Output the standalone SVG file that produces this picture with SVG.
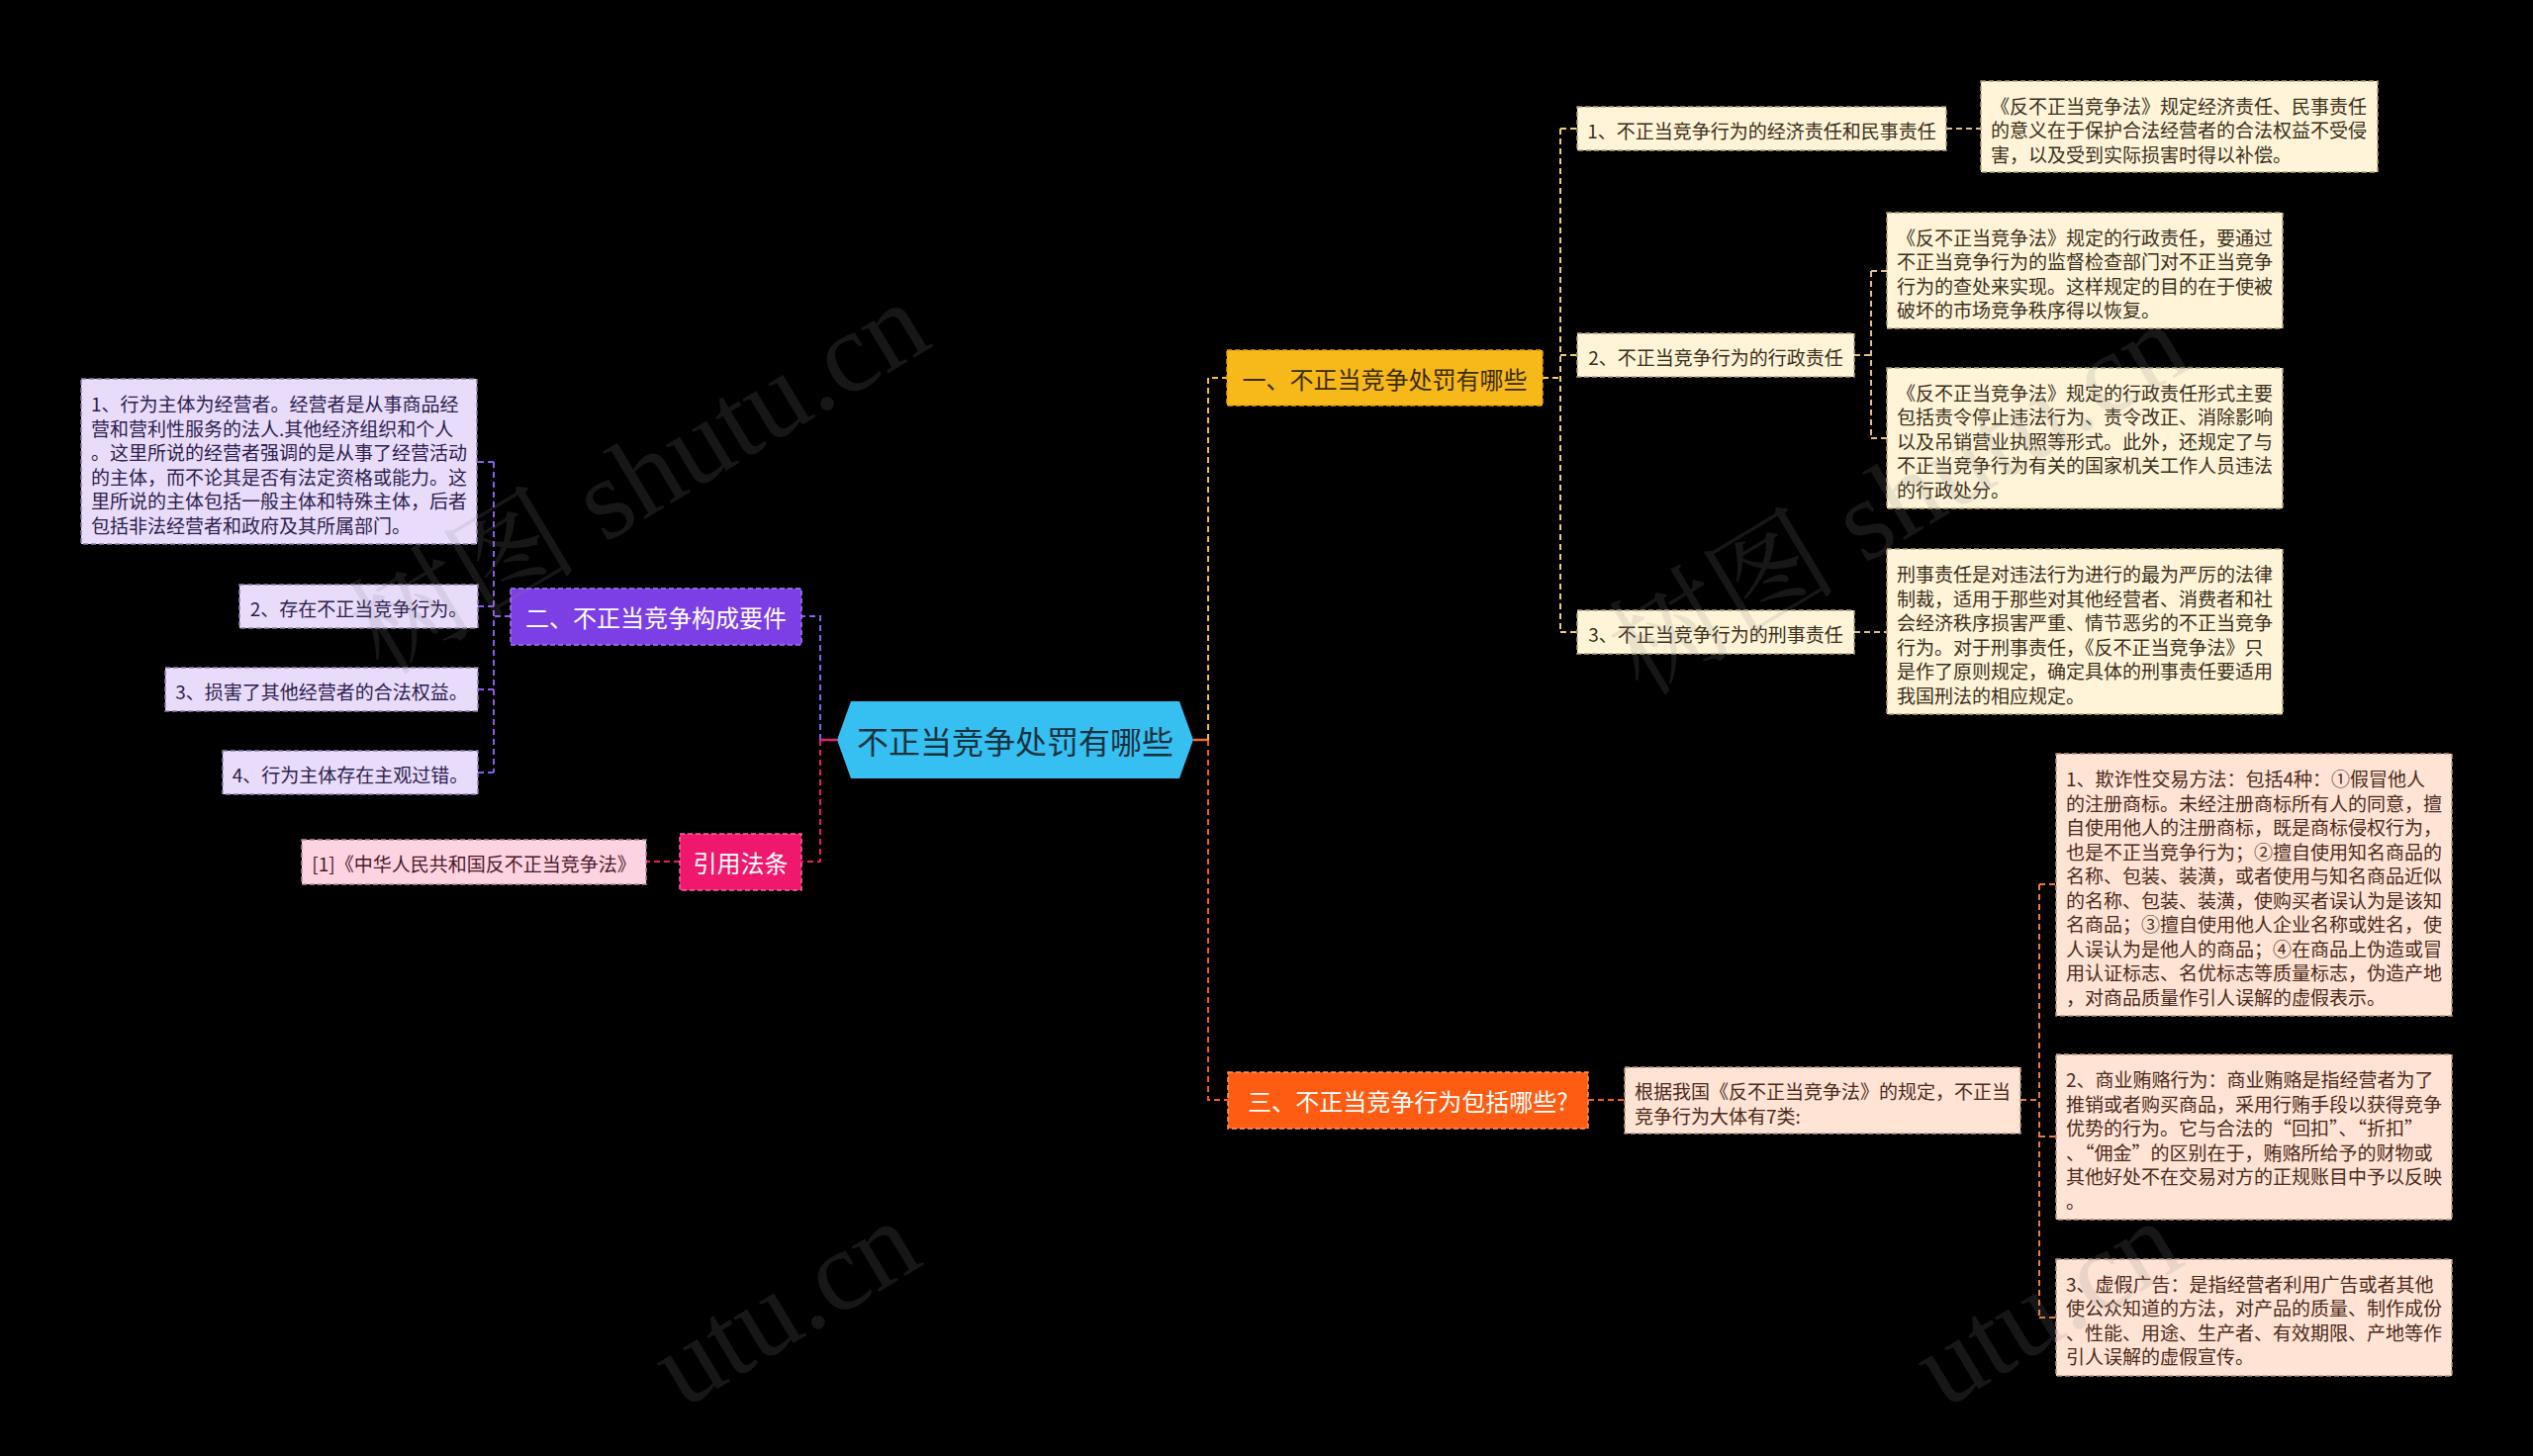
<svg xmlns="http://www.w3.org/2000/svg" width="2560" height="1472" viewBox="0 0 2560 1472">
<style>
text{font-family:"Noto Sans CJK SC","Noto Sans",sans-serif;}
.s{font-size:19px;dominant-baseline:central;}
.m{font-size:24px;dominant-baseline:central;text-anchor:middle;}
.c{text-anchor:middle;}
.con{fill:none;stroke-width:2;stroke-dasharray:6 4;}
.solid{fill:none;stroke-width:2.5;}
.pm{fill:#7C3FE6;stroke:#A57BF2;stroke-width:1.5;stroke-dasharray:5 3;}
.ps{fill:#E8DCFA;stroke:#8E7FAE;stroke-width:1.5;stroke-dasharray:5 3;}
.km{fill:#F0186C;stroke:#F86A9E;stroke-width:1.5;stroke-dasharray:5 3;}
.ks{fill:#FDD3E2;stroke:#B88A9A;stroke-width:1.5;stroke-dasharray:5 3;}
.ym{fill:#F7B81A;stroke:#E8A000;stroke-width:1.5;stroke-dasharray:5 3;}
.ys{fill:#FFF4D8;stroke:#B4A27E;stroke-width:1.5;stroke-dasharray:5 3;}
.om{fill:#FD5C12;stroke:#FF9A6A;stroke-width:1.5;stroke-dasharray:5 3;}
.os{fill:#FFE3D4;stroke:#BE9684;stroke-width:1.5;stroke-dasharray:5 3;}
.tp{fill:#2D1D4D;}
.tk{fill:#4A1A2A;}
.ty{fill:#3A2F1A;}
.to{fill:#4A2A1A;}
.wm{font-family:"Liberation Serif","Noto Serif CJK SC","Noto Sans CJK SC",serif;font-size:116px;fill:#8a8a8a;opacity:0.17;}
</style>
<rect x="0" y="0" width="2560" height="1472" fill="#000000"/>

<g id="connectors">
  <path class="solid" stroke="#E0246F" d="M846 748 H829"/>
  <path class="con" stroke="#8C5CF0" d="M829 748 V623 H810"/>
  <path class="con" stroke="#F0186C" d="M829 748 V871 H810"/>
  <path class="con" stroke="#8C5CF0" d="M516 623 H499 M499 467 V781 M499 467 H482 M499 613 H483 M499 697 H483 M499 781 H483"/>
  <path class="con" stroke="#F0186C" d="M687 871 H653"/>
  <path class="solid" stroke="#F26A2A" d="M1206 748 H1221"/>
  <path class="con" stroke="#F7C130" d="M1221 748 V382 H1240"/>
  <path class="con" stroke="#FD5C12" d="M1221 748 V1112 H1241"/>
  <path class="con" stroke="#F2D264" d="M1559 382 H1577 M1577 130 V639 M1577 130 H1594 M1577 359 H1594 M1577 639 H1594"/>
  <path class="con" stroke="#E2C08A" d="M1967 130 H2002 M1874 359 H1891 M1891 274 V443 M1891 274 H1907 M1891 443 H1907 M1874 639 H1907"/>
  <path class="con" stroke="#FD5C12" d="M1605 1112 H1642"/>
  <path class="con" stroke="#EE7A3E" d="M2042 1112 H2061 M2061 894 V1332 M2061 894 H2078 M2061 1149 H2078 M2061 1332 H2078"/>
</g>

<g id="root">
  <polygon points="846,748 860,709 1192,709 1206,748 1192,787 860,787" fill="#36BFF1"/>
  <text x="1026" y="748" font-size="32" class="c" dominant-baseline="central" fill="#17323F">不正当竞争处罚有哪些</text>
</g>

<g id="n-purple-main">
  <rect class="pm" x="516" y="595" width="294" height="57"/>
  <text class="m" x="663" y="623.5" fill="#FFFFFF">二、不正当竞争构成要件</text>
</g>
<g id="n-purple-1">
  <rect class="ps" x="82" y="383" width="400" height="167"/>
  <text class="s tp" x="92">
    <tspan x="92" y="407">1、行为主体为经营者。经营者是从事商品经</tspan>
    <tspan x="92" y="431.5">营和营利性服务的法人.其他经济组织和个人</tspan>
    <tspan x="92" y="456">。这里所说的经营者强调的是从事了经营活动</tspan>
    <tspan x="92" y="480.5">的主体，而不论其是否有法定资格或能力。这</tspan>
    <tspan x="92" y="505">里所说的主体包括一般主体和特殊主体，后者</tspan>
    <tspan x="92" y="529.5">包括非法经营者和政府及其所属部门。</tspan>
  </text>
</g>
<g id="n-purple-2">
  <rect class="ps" x="242" y="591" width="241" height="44"/>
  <text class="s tp c" x="362.5" y="614">2、存在不正当竞争行为。</text>
</g>
<g id="n-purple-3">
  <rect class="ps" x="167" y="675" width="316" height="44"/>
  <text class="s tp c" x="325" y="698">3、损害了其他经营者的合法权益。</text>
</g>
<g id="n-purple-4">
  <rect class="ps" x="225" y="759" width="258" height="44"/>
  <text class="s tp c" x="354" y="782">4、行为主体存在主观过错。</text>
</g>

<g id="n-pink-main">
  <rect class="km" x="687" y="843" width="123" height="57"/>
  <text class="m" x="748.5" y="871.5" fill="#FFFFFF">引用法条</text>
</g>
<g id="n-pink-1">
  <rect class="ks" x="305" y="849" width="348" height="45"/>
  <text class="s tk c" x="479" y="872.5">[1]《中华人民共和国反不正当竞争法》</text>
</g>

<g id="n-yellow-main">
  <rect class="ym" x="1240" y="354" width="319" height="56"/>
  <text class="m" x="1399.5" y="382" fill="#3A2C08">一、不正当竞争处罚有哪些</text>
</g>
<g id="n-yellow-1">
  <rect class="ys" x="1594" y="108" width="373" height="44"/>
  <text class="s ty c" x="1780.5" y="131">1、不正当竞争行为的经济责任和民事责任</text>
</g>
<g id="n-yellow-1-1">
  <rect class="ys" x="2002" y="82" width="401" height="92"/>
  <text class="s ty">
    <tspan x="2012" y="105.5">《反不正当竞争法》规定经济责任、民事责任</tspan>
    <tspan x="2012" y="130">的意义在于保护合法经营者的合法权益不受侵</tspan>
    <tspan x="2012" y="154.5">害，以及受到实际损害时得以补偿。</tspan>
  </text>
</g>
<g id="n-yellow-2">
  <rect class="ys" x="1594" y="337" width="280" height="44"/>
  <text class="s ty c" x="1734" y="360">2、不正当竞争行为的行政责任</text>
</g>
<g id="n-yellow-2-1">
  <rect class="ys" x="1907" y="215" width="400" height="117"/>
  <text class="s ty">
    <tspan x="1917" y="238.5">《反不正当竞争法》规定的行政责任，要通过</tspan>
    <tspan x="1917" y="263">不正当竞争行为的监督检查部门对不正当竞争</tspan>
    <tspan x="1917" y="287.5">行为的查处来实现。这样规定的目的在于使被</tspan>
    <tspan x="1917" y="312">破坏的市场竞争秩序得以恢复。</tspan>
  </text>
</g>
<g id="n-yellow-2-2">
  <rect class="ys" x="1907" y="372" width="400" height="142"/>
  <text class="s ty">
    <tspan x="1917" y="395.5">《反不正当竞争法》规定的行政责任形式主要</tspan>
    <tspan x="1917" y="420">包括责令停止违法行为、责令改正、消除影响</tspan>
    <tspan x="1917" y="444.5">以及吊销营业执照等形式。此外，还规定了与</tspan>
    <tspan x="1917" y="469">不正当竞争行为有关的国家机关工作人员违法</tspan>
    <tspan x="1917" y="493.5">的行政处分。</tspan>
  </text>
</g>
<g id="n-yellow-3">
  <rect class="ys" x="1594" y="617" width="280" height="44"/>
  <text class="s ty c" x="1734" y="640">3、不正当竞争行为的刑事责任</text>
</g>
<g id="n-yellow-3-1">
  <rect class="ys" x="1907" y="555" width="400" height="167"/>
  <text class="s ty">
    <tspan x="1917" y="579">刑事责任是对违法行为进行的最为严厉的法律</tspan>
    <tspan x="1917" y="603.5">制裁，适用于那些对其他经营者、消费者和社</tspan>
    <tspan x="1917" y="628">会经济秩序损害严重、情节恶劣的不正当竞争</tspan>
    <tspan x="1917" y="652.5">行为。对于刑事责任，《反不正当竞争法》只</tspan>
    <tspan x="1917" y="677">是作了原则规定，确定具体的刑事责任要适用</tspan>
    <tspan x="1917" y="701.5">我国刑法的相应规定。</tspan>
  </text>
</g>

<g id="n-orange-main">
  <rect class="om" x="1241" y="1084" width="364" height="57"/>
  <text class="m" x="1423" y="1112.5" fill="#FFFFFF">三、不正当竞争行为包括哪些?</text>
</g>
<g id="n-orange-1">
  <rect class="os" x="1642" y="1079" width="400" height="67"/>
  <text class="s to">
    <tspan x="1652" y="1102">根据我国《反不正当竞争法》的规定，不正当</tspan>
    <tspan x="1652" y="1126.5">竞争行为大体有7类:</tspan>
  </text>
</g>
<g id="n-orange-1-1">
  <rect class="os" x="2078" y="762" width="400" height="265"/>
  <text class="s to">
    <tspan x="2088" y="786">1、欺诈性交易方法：包括4种：①假冒他人</tspan>
    <tspan x="2088" y="810.5">的注册商标。未经注册商标所有人的同意，擅</tspan>
    <tspan x="2088" y="835">自使用他人的注册商标，既是商标侵权行为，</tspan>
    <tspan x="2088" y="859.5">也是不正当竞争行为；②擅自使用知名商品的</tspan>
    <tspan x="2088" y="884">名称、包装、装潢，或者使用与知名商品近似</tspan>
    <tspan x="2088" y="908.5">的名称、包装、装潢，使购买者误认为是该知</tspan>
    <tspan x="2088" y="933">名商品；③擅自使用他人企业名称或姓名，使</tspan>
    <tspan x="2088" y="957.5">人误认为是他人的商品；④在商品上伪造或冒</tspan>
    <tspan x="2088" y="982">用认证标志、名优标志等质量标志，伪造产地</tspan>
    <tspan x="2088" y="1006.5">，对商品质量作引人误解的虚假表示。</tspan>
  </text>
</g>
<g id="n-orange-1-2">
  <rect class="os" x="2078" y="1066" width="400" height="167"/>
  <text class="s to">
    <tspan x="2088" y="1090">2、商业贿赂行为：商业贿赂是指经营者为了</tspan>
    <tspan x="2088" y="1114.5">推销或者购买商品，采用行贿手段以获得竞争</tspan>
    <tspan x="2088" y="1139">优势的行为。它与合法的“回扣”、“折扣”</tspan>
    <tspan x="2088" y="1163.5">、“佣金”的区别在于，贿赂所给予的财物或</tspan>
    <tspan x="2088" y="1188">其他好处不在交易对方的正规账目中予以反映</tspan>
    <tspan x="2088" y="1212.5">。</tspan>
  </text>
</g>
<g id="n-orange-1-3">
  <rect class="os" x="2078" y="1273" width="400" height="118"/>
  <text class="s to">
    <tspan x="2088" y="1296.5">3、虚假广告：是指经营者利用广告或者其他</tspan>
    <tspan x="2088" y="1321">使公众知道的方法，对产品的质量、制作成份</tspan>
    <tspan x="2088" y="1345.5">、性能、用途、生产者、有效期限、产地等作</tspan>
    <tspan x="2088" y="1370">引人误解的虚假宣传。</tspan>
  </text>
</g>

<g id="watermarks">
  <text class="wm" x="387" y="684" transform="rotate(-31 387 684)">树图 shutu.cn</text>
  <text class="wm" x="1660" y="705" transform="rotate(-31 1660 705)">树图 shutu.cn</text>
  <text class="wm" x="690" y="1425" transform="rotate(-31 690 1425)">utu.cn</text>
  <text class="wm" x="1965" y="1425" transform="rotate(-31 1965 1425)">utu.cn</text>
</g>
</svg>
